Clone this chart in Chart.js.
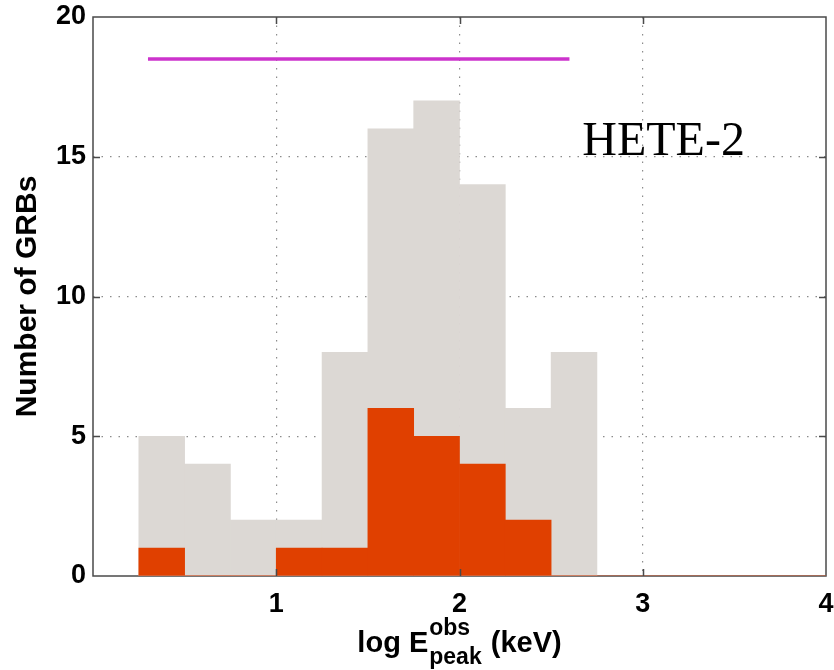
<!DOCTYPE html>
<html>
<head>
<meta charset="utf-8">
<title>HETE-2 Epeak distribution</title>
<script src="https://cdn.jsdelivr.net/npm/chart.js@4.4.1/dist/chart.umd.min.js"></script>
<style>
  html, body { margin: 0; padding: 0; background: #fff; }
  canvas { display: block; }
</style>
</head>
<body>
<canvas id="hist" width="834" height="670"></canvas>
<script>
// histogram bins in log Epeak (keV), 0.25 wide
const binCenters = [0.375, 0.625, 0.875, 1.125, 1.375, 1.625, 1.875, 2.125, 2.375, 2.625];
const allCounts = [5, 4, 2, 2, 8, 16, 17, 14, 6, 8];
const subsetCounts = [1, 0, 0, 1, 1, 6, 5, 4, 2, 0];
const binWidth = 0.25;

// bar at the top of the panel
const rangeX = [0.3, 2.6];
const rangeY = 18.5;

const xTicks = [0, 1, 2, 3, 4];
const yTicks = [0, 5, 10, 15, 20];

const sansFont = '"Liberation Sans", Arial, Helvetica, sans-serif';
const textAt = [2.67, 15.05];

const toPoints = (xs, ys) => xs.map((x, i) => ({ x: x, y: ys[i] }));

const framePlugin = {
  id: 'frame',
  beforeDatasetsDraw(chart) {
    const { ctx, chartArea: a } = chart;
    ctx.save();
    ctx.strokeStyle = '#4a4a4a';
    ctx.lineWidth = 1.5;
    ctx.strokeRect(a.left, a.top, a.right - a.left, a.bottom - a.top);
    ctx.restore();
  },
  afterDraw(chart) {
    const { ctx, chartArea: a, scales } = chart;
    const x = scales.x;
    const y = scales.y;
    ctx.save();

    // inward tick marks on all four sides
    ctx.strokeStyle = '#4a4a4a';
    ctx.lineWidth = 1.5;
    ctx.beginPath();
    xTicks.slice(1, -1).forEach((v) => {
      const px = Math.round(x.getPixelForValue(v)) + 0.5;
      ctx.moveTo(px, a.bottom);
      ctx.lineTo(px, a.bottom - 7);
      ctx.moveTo(px, a.top);
      ctx.lineTo(px, a.top + 7);
    });
    yTicks.slice(1, -1).forEach((v) => {
      const py = Math.round(y.getPixelForValue(v)) + 0.5;
      ctx.moveTo(a.left, py);
      ctx.lineTo(a.left + 7, py);
      ctx.moveTo(a.right, py);
      ctx.lineTo(a.right - 7, py);
    });
    ctx.stroke();

    // instrument name
    ctx.fillStyle = '#000';
    ctx.font = '48px "Liberation Serif", "Times New Roman", serif';
    ctx.textAlign = 'left';
    ctx.textBaseline = 'alphabetic';
    ctx.fillText('HETE-2', x.getPixelForValue(textAt[0]), y.getPixelForValue(textAt[1]));

    // y axis title
    ctx.save();
    ctx.translate(28, (a.top + a.bottom) / 2);
    ctx.rotate(-Math.PI / 2);
    ctx.textAlign = 'center';
    ctx.textBaseline = 'middle';
    ctx.font = 'bold 30px ' + sansFont;
    ctx.fillText('Number of GRBs', 0, 0);
    ctx.restore();

    // x axis title with super/subscript
    const mainFont = 'bold 29px ' + sansFont;
    const scriptFont = 'bold 23px ' + sansFont;
    ctx.font = mainFont;
    const w1 = ctx.measureText('log E').width;
    const w2 = ctx.measureText(' (keV)').width;
    ctx.font = scriptFont;
    const wSup = ctx.measureText('obs').width;
    const wSub = ctx.measureText('peak').width;
    const wScript = Math.max(wSup, wSub) + 2;
    const total = w1 + wScript + w2;
    let cx = (a.left + a.right) / 2 - total / 2;
    const base = 652;
    ctx.textAlign = 'left';
    ctx.font = mainFont;
    ctx.fillText('log E', cx, base);
    cx += w1 + 1;
    ctx.font = scriptFont;
    ctx.fillText('obs', cx, base - 17);
    ctx.fillText('peak', cx, base + 12);
    cx += wScript - 1;
    ctx.font = mainFont;
    ctx.fillText(' (keV)', cx, base);

    ctx.restore();
  },
};

const edgeless = (axisMin, axisMax) => (c) =>
  c.tick && (c.tick.value === axisMin || c.tick.value === axisMax) ? 'rgba(0,0,0,0)' : '#8c8c8c';

new Chart(document.getElementById('hist'), {
  type: 'bar',
  data: {
    datasets: [
      {
        type: 'line',
        data: toPoints(rangeX, [rangeY, rangeY]),
        borderColor: '#cc33cc',
        borderWidth: 3.5,
        pointRadius: 0,
        order: 0,
      },
      {
        type: 'line',
        data: toPoints([binCenters[0] - binWidth / 2, xTicks[xTicks.length - 1]], [0, 0]),
        borderColor: '#d0603a',
        borderWidth: 1,
        pointRadius: 0,
        order: 0,
      },
      {
        data: toPoints(binCenters, subsetCounts),
        backgroundColor: '#e04000',
        borderWidth: 0,
        grouped: false,
        barPercentage: 1,
        categoryPercentage: 1,
        order: 1,
      },
      {
        data: toPoints(binCenters, allCounts),
        backgroundColor: '#dcd8d4',
        borderWidth: 0,
        grouped: false,
        barPercentage: 1,
        categoryPercentage: 1,
        order: 2,
      },
    ],
  },
  options: {
    responsive: false,
    animation: false,
    events: [],
    layout: { padding: { top: 17, right: 8, left: 0, bottom: 0 } },
    plugins: {
      legend: { display: false },
      tooltip: { enabled: false },
    },
    scales: {
      x: {
        type: 'linear',
        offset: false,
        min: xTicks[0],
        max: xTicks[xTicks.length - 1],
        afterBuildTicks: (s) => { s.ticks = xTicks.map((v) => ({ value: v })); },
        afterFit: (s) => { s.height = 94; s.paddingLeft = 0; s.paddingRight = 0; },
        grid: { offset: false, color: edgeless(0, 4), lineWidth: 1.2, drawTicks: false },
        border: { display: false, dash: [1.5, 7] },
        ticks: {
          autoSkip: false,
          maxRotation: 0,
          padding: 12,
          color: '#000',
          font: { family: sansFont, size: 27, weight: 'bold' },
          callback: (v) => (v === 0 ? '' : String(v)),
        },
      },
      y: {
        type: 'linear',
        min: yTicks[0],
        max: yTicks[yTicks.length - 1],
        afterBuildTicks: (s) => { s.ticks = yTicks.map((v) => ({ value: v })); },
        afterFit: (s) => { s.width = 93; s.paddingTop = 0; s.paddingBottom = 0; },
        grid: { color: edgeless(0, 20), lineWidth: 1.2, drawTicks: false },
        border: { display: false, dash: [1.5, 7] },
        ticks: {
          autoSkip: false,
          padding: 7,
          color: '#000',
          font: { family: sansFont, size: 27, weight: 'bold' },
        },
      },
    },
  },
  plugins: [framePlugin],
});
</script>
</body>
</html>
